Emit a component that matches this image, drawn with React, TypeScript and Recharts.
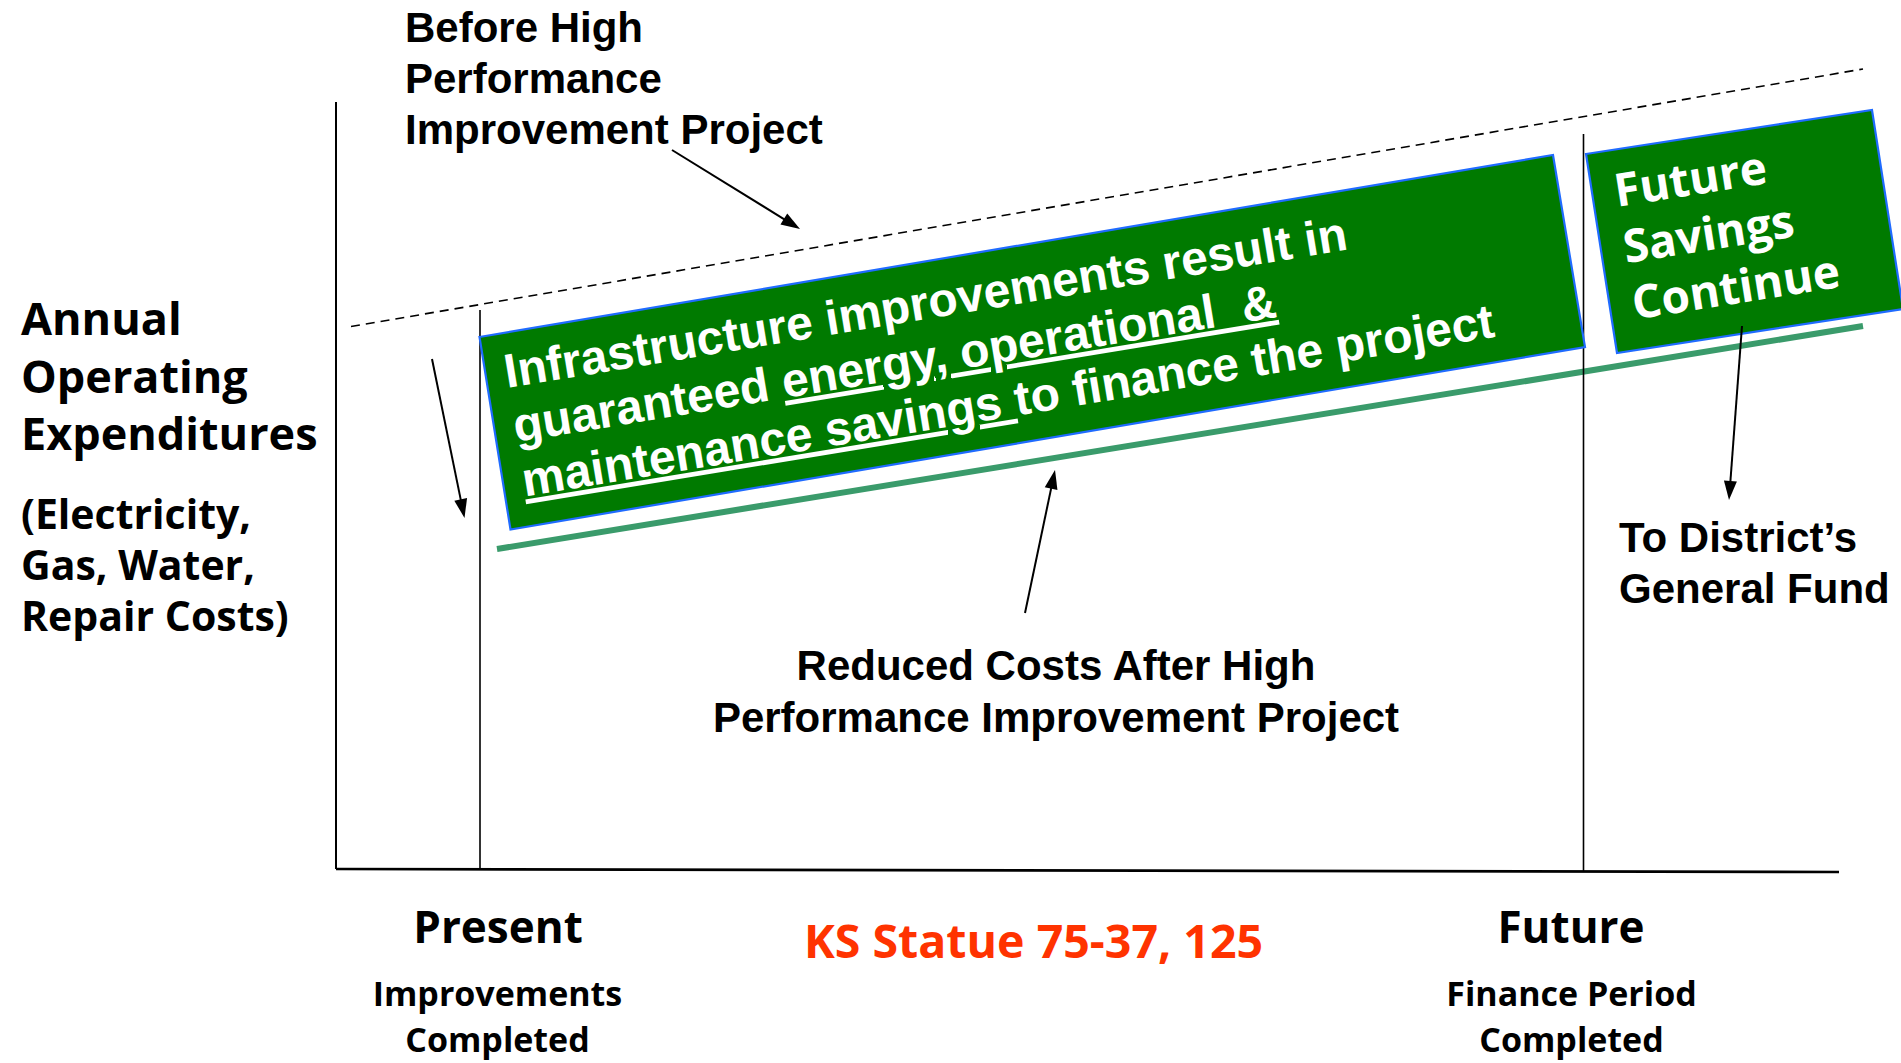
import React from 'react';
import { ComposedChart, XAxis, YAxis, Line, Scatter } from 'recharts';

const W = 1901;
const H = 1063;

// Diagram coordinates: x = time (left to right), y = position down from the top (axis reversed)
const axisVertical = [{ x: 336, y: 102 }, { x: 336, y: 869 }];
const axisHorizontal = [{ x: 336, y: 869 }, { x: 1839, y: 872 }];
const presentMarker = [{ x: 480, y: 310 }, { x: 480, y: 869 }];
const futureMarker = [{ x: 1583.5, y: 134 }, { x: 1583.5, y: 872 }];
const costsBefore = [{ x: 351, y: 326.5 }, { x: 1863, y: 69 }];
const costsAfter = [{ x: 497, y: 549 }, { x: 1863, y: 326 }];
const savingsBox = [
  { x: 479.5, y: 337 }, { x: 1553, y: 155 }, { x: 1585, y: 347 }, { x: 510.5, y: 529.5 },
];
const futureBox = [
  { x: 1586, y: 154 }, { x: 1872, y: 110 }, { x: 1903, y: 309 }, { x: 1617, y: 353 },
];
const arrowBefore = [{ x: 672, y: 150 }, { x: 800, y: 229 }];
const arrowDrop = [{ x: 432, y: 359 }, { x: 464.5, y: 518 }];
const arrowReduced = [{ x: 1025, y: 613 }, { x: 1055, y: 470 }];
const arrowFund = [{ x: 1742, y: 326 }, { x: 1729, y: 500 }];

// Text anchors and text
const beforeText = [{ x: 405, y: 41.5 }];
const beforeLines = ['Before High', 'Performance', 'Improvement Project'];
const yTitle = [{ x: 21, y: 335 }];
const yTitleLines = ['Annual', 'Operating', 'Expenditures'];
const ySub = [{ x: 21, y: 529 }];
const ySubLines = ['(Electricity,', 'Gas, Water,', 'Repair Costs)'];
const reducedText = [{ x: 1056, y: 680 }];
const reducedLines = ['Reduced Costs After High', 'Performance Improvement Project'];
const fundText = [{ x: 1619, y: 552 }];
const fundLines = ['To District\u2019s', 'General Fund'];
const presentText = [{ x: 498, y: 943 }];
const futureText = [{ x: 1571, y: 943 }];
const statuteText = [{ x: 1033.5, y: 958 }];
const presentSub = [{ x: 497.5, y: 1005.5 }];
const presentSubLines = ['Improvements', 'Completed'];
const futureSub = [{ x: 1571.5, y: 1005.5 }];
const futureSubLines = ['Finance Period', 'Completed'];
const boxText = [{ x: 507, y: 388 }];
const futureBoxText = [{ x: 1617, y: 207 }];
const futureBoxLines = ['Future', 'Savings', 'Continue'];

const ARIAL = "'Liberation Sans', Arial, Helvetica, sans-serif";
const GOTHIC = "'Open Sans', 'DejaVu Sans', sans-serif";

const Nothing = () => <g />;

const Poly = (props: any) => {
  const pts = props.points || [];
  return (
    <polygon
      points={pts.map((p: any) => `${p.x},${p.y}`).join(' ')}
      fill={props.bg}
      stroke={props.edge}
      strokeWidth={2.2}
    />
  );
};

const Arrow = (props: any) => {
  const pts = props.points || [];
  if (pts.length < 2) return <g />;
  const a = pts[0];
  const b = pts[1];
  const dx = b.x - a.x;
  const dy = b.y - a.y;
  const len = Math.hypot(dx, dy);
  const ux = dx / len;
  const uy = dy / len;
  const hl = 19;
  const hw = 6.5;
  const bx = b.x - ux * hl;
  const by = b.y - uy * hl;
  return (
    <g>
      <line x1={a.x} y1={a.y} x2={bx + ux * 2} y2={by + uy * 2} stroke="#000" strokeWidth={2} />
      <polygon
        points={`${b.x},${b.y} ${bx - uy * hw},${by + ux * hw} ${bx + uy * hw},${by - ux * hw}`}
        fill="#000"
      />
    </g>
  );
};

const multiLine = (
  lines: string[],
  font: string,
  size: number,
  gap: number,
  anchor: string,
  color = '#000'
) => (props: any) => {
  const { cx, cy } = props;
  return (
    <text
      x={cx}
      y={cy}
      fontFamily={font}
      fontSize={size}
      fontWeight={700}
      fill={color}
      textAnchor={anchor}
    >
      {lines.map((l, i) => (
        <tspan key={i} x={cx} dy={i === 0 ? 0 : gap}>
          {l}
        </tspan>
      ))}
    </text>
  );
};

const savingsTextShape = (props: any) => {
  const { cx, cy } = props;
  return (
    <text
      x={cx}
      y={cy}
      transform={`rotate(-9.35 ${cx} ${cy})`}
      fontFamily={ARIAL}
      fontSize={48}
      fontWeight={700}
      fill="#fff"
      style={{ whiteSpace: 'pre' }}
    >
      <tspan x={cx} dy={0}>Infrastructure improvements result in</tspan>
      <tspan x={cx} dy={55}>guaranteed </tspan>
      <tspan textDecoration="underline">energy, operational  &amp;</tspan>
      <tspan x={cx} dy={55} textDecoration="underline">maintenance savings </tspan>
      <tspan>to finance the project</tspan>
    </text>
  );
};

const futureBoxShape = (props: any) => {
  const { cx, cy } = props;
  return (
    <text
      x={cx}
      y={cy}
      transform={`rotate(-9 ${cx} ${cy})`}
      fontFamily={GOTHIC}
      fontSize={46}
      fontWeight={700}
      fill="#fff"
    >
      {futureBoxLines.map((l, i) => (
        <tspan key={i} x={cx} dy={i === 0 ? 0 : 57}>
          {l}
        </tspan>
      ))}
    </text>
  );
};

export default function App() {
  return (
    <div style={{ position: 'absolute', left: 0, top: 0, width: W, height: H, background: '#fff' }}>
      <ComposedChart width={W} height={H} margin={{ top: 0, right: 0, bottom: 0, left: 0 }}>
        <XAxis type="number" dataKey="x" domain={[0, W]} hide allowDataOverflow />
        <YAxis type="number" dataKey="y" domain={[0, H]} reversed hide allowDataOverflow />

        <Scatter data={savingsBox.concat([savingsBox[0]])} line={<Poly bg="#007a00" edge="#1f6bff" />} lineType="joint" shape={Nothing} isAnimationActive={false} />
        <Scatter data={futureBox.concat([futureBox[0]])} line={<Poly bg="#007a00" edge="#1f6bff" />} lineType="joint" shape={Nothing} isAnimationActive={false} />

        <Line data={costsBefore} dataKey="y" stroke="#000" strokeWidth={1.6} strokeDasharray="9 6" dot={false} isAnimationActive={false} />
        <Line data={costsAfter} dataKey="y" stroke="#3a9b6b" strokeWidth={6} dot={false} isAnimationActive={false} />
        <Line data={axisVertical} dataKey="y" stroke="#000" strokeWidth={2} dot={false} isAnimationActive={false} />
        <Line data={axisHorizontal} dataKey="y" stroke="#000" strokeWidth={2.6} dot={false} isAnimationActive={false} />
        <Line data={presentMarker} dataKey="y" stroke="#000" strokeWidth={1.6} dot={false} isAnimationActive={false} />
        <Line data={futureMarker} dataKey="y" stroke="#000" strokeWidth={1.6} dot={false} isAnimationActive={false} />

        <Scatter data={arrowBefore} line={<Arrow />} lineType="joint" shape={Nothing} isAnimationActive={false} />
        <Scatter data={arrowDrop} line={<Arrow />} lineType="joint" shape={Nothing} isAnimationActive={false} />
        <Scatter data={arrowReduced} line={<Arrow />} lineType="joint" shape={Nothing} isAnimationActive={false} />
        <Scatter data={arrowFund} line={<Arrow />} lineType="joint" shape={Nothing} isAnimationActive={false} />

        <Scatter data={boxText} shape={savingsTextShape} isAnimationActive={false} />
        <Scatter data={futureBoxText} shape={futureBoxShape} isAnimationActive={false} />
        <Scatter data={beforeText} shape={multiLine(beforeLines, ARIAL, 42, 51, 'start')} isAnimationActive={false} />
        <Scatter data={yTitle} shape={multiLine(yTitleLines, GOTHIC, 45, 57.5, 'start')} isAnimationActive={false} />
        <Scatter data={ySub} shape={multiLine(ySubLines, GOTHIC, 41, 51, 'start')} isAnimationActive={false} />
        <Scatter data={reducedText} shape={multiLine(reducedLines, ARIAL, 42, 52, 'middle')} isAnimationActive={false} />
        <Scatter data={fundText} shape={multiLine(fundLines, ARIAL, 42, 51, 'start')} isAnimationActive={false} />
        <Scatter data={presentText} shape={multiLine(['Present'], GOTHIC, 44, 0, 'middle')} isAnimationActive={false} />
        <Scatter data={futureText} shape={multiLine(['Future'], GOTHIC, 44, 0, 'middle')} isAnimationActive={false} />
        <Scatter data={statuteText} shape={multiLine(['KS Statue 75-37, 125'], GOTHIC, 46.5, 0, 'middle', '#ff3300')} isAnimationActive={false} />
        <Scatter data={presentSub} shape={multiLine(presentSubLines, GOTHIC, 34, 46.5, 'middle')} isAnimationActive={false} />
        <Scatter data={futureSub} shape={multiLine(futureSubLines, GOTHIC, 34, 46.5, 'middle')} isAnimationActive={false} />
      </ComposedChart>
    </div>
  );
}
